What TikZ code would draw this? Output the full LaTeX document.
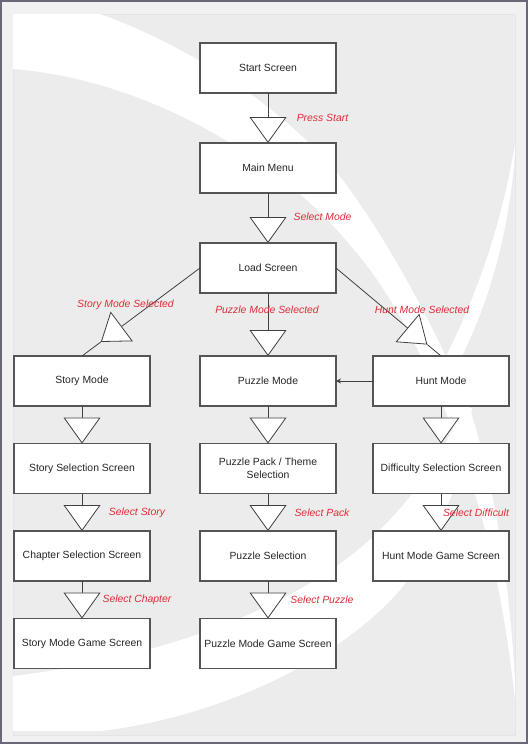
\documentclass[tikz,border=0pt]{standalone}
\usepackage{fontspec}
\setmainfont{Liberation Sans}
\usetikzlibrary{positioning,arrows.meta,calc}
\definecolor{framegray}{RGB}{104,104,118}
\definecolor{margingray}{RGB}{241,241,241}
\definecolor{pagegray}{RGB}{236,236,236}
\definecolor{labelred}{RGB}{222,45,55}
\definecolor{edgegray}{RGB}{85,85,85}

\begin{document}
\begin{tikzpicture}[
x=1pt, y=-1pt,
node distance=37.5pt,
box/.style={rectangle,draw=edgegray,line width=1.1pt,fill=white,minimum width=136pt,minimum height=50pt,outer sep=0pt,align=center,font=\fontsize{10.4}{13}\selectfont,text=black!85},
lbl/.style={inner sep=0pt,text=labelred,font=\fontsize{10.4}{13}\selectfont\itshape},
link/.style={draw=black!75,line width=0.8pt},
flow/.style={link,-{Triangle[width=37pt,length=26pt,fill=white]}},
swoosh/.style={fill=white}
]

% background page
\useasboundingbox (0,0) rectangle (528,744);
\fill[framegray] (0,0) rectangle (528,744);
\fill[margingray] (2,1.5) rectangle (526,742);
\filldraw[fill=pagegray,draw=black!10,line width=0.4pt] (13,14) rectangle (515,735);
\begin{scope}
\clip (13,14) rectangle (515,735);
\fill[swoosh] (13,14) -- (100,14) .. controls (200,50) and (300,120) .. (350,190)
  .. controls (400,260) and (440,340) .. (470,410) .. controls (490,470) and (508,560) .. (515,680)
  -- (515,700) .. controls (500,560) and (470,470) .. (445,410)
  .. controls (420,350) and (390,290) .. (350,245) .. controls (280,160) and (150,80) .. (13,69) -- cycle;
\fill[swoosh] (516,140) .. controls (510,240) and (485,310) .. (460,360)
  -- (444,360) .. controls (475,300) and (500,230) .. (514,150) -- cycle;
\fill[swoosh] (13,676) .. controls (150,660) and (300,610) .. (380,530)
  .. controls (420,490) and (445,450) .. (462,408) -- (472,408)
  .. controls (465,470) and (440,540) .. (400,590) .. controls (330,670) and (200,720) .. (100,731)
  -- (13,731) -- cycle;
\end{scope}

% screens
\node[box] (start) at (268,68) {Start Screen};
\node[box, below=50pt of start] (mainmenu) {Main Menu};
\node[box, below=50pt of mainmenu] (load) {Load Screen};
\node[box, below=63pt of load] (puzzle) {Puzzle Mode};
\node[box, left=50pt of puzzle] (story) {Story Mode};
\node[box, right=37pt of puzzle] (hunt) {Hunt Mode};

\node[box, below=of story] (storysel) {Story Selection Screen};
\node[box, below=of storysel] (chaptersel) {Chapter Selection Screen};
\node[box, below=of chaptersel] (storygame) {Story Mode Game Screen};

\node[box, below=of puzzle] (packsel) {Puzzle Pack / Theme\\Selection};
\node[box, below=of packsel] (puzzlesel) {Puzzle Selection};
\node[box, below=of puzzlesel] (puzzlegame) {Puzzle Mode Game Screen};

\node[box, below=of hunt] (diffsel) {Difficulty Selection Screen};
\node[box, below=of diffsel] (huntgame) {Hunt Mode Game Screen};

% transitions
\coordinate (storyTip) at ($(load.west)!0.84!(story.north)$);
\coordinate (huntTip) at ($(load.east)!0.87!(hunt.north)$);

\draw[flow] (start) -- (mainmenu);
\draw[flow] (mainmenu) -- (load);
\draw[flow] (load) -- (puzzle);
\draw[flow] (load.west) -- (storyTip);
\draw[link] (storyTip) -- (story.north);
\draw[flow] (load.east) -- (huntTip);
\draw[link] (huntTip) -- (hunt.north);
\draw[link,-{Stealth[length=5pt,width=5pt]}] (hunt) -- (puzzle);

\draw[flow] (story) -- (storysel);
\draw[flow] (storysel) -- (chaptersel);
\draw[flow] (chaptersel) -- (storygame);

\draw[flow] (puzzle) -- (packsel);
\draw[flow] (packsel) -- (puzzlesel);
\draw[flow] (puzzlesel) -- (puzzlegame);

\draw[flow] (hunt) -- (diffsel);
\draw[flow] (diffsel) -- (huntgame);

% labels
\node[lbl] (pressLbl) at (322.5,118) {Press Start};
\node[lbl] (modeLbl) at (322.5,217) {Select Mode};
\node[lbl] (storyLbl) at (125.5,305) {Story Mode Selected};
\node[lbl] (puzzleLbl) at (267,310) {Puzzle Mode Selected};
\node[lbl] (huntLbl) at (422,310) {Hunt Mode Selected};
\node[lbl] (storySelLbl) at (137,513) {Select Story};
\node[lbl] (packLbl) at (322,513) {Select Pack};
\node[lbl] (diffLbl) at (476,513) {Select Difficult};
\node[lbl] (chapterLbl) at (137,600) {Select Chapter};
\node[lbl] (puzzleSelLbl) at (322,600) {Select Puzzle};

\end{tikzpicture}
\end{document}
